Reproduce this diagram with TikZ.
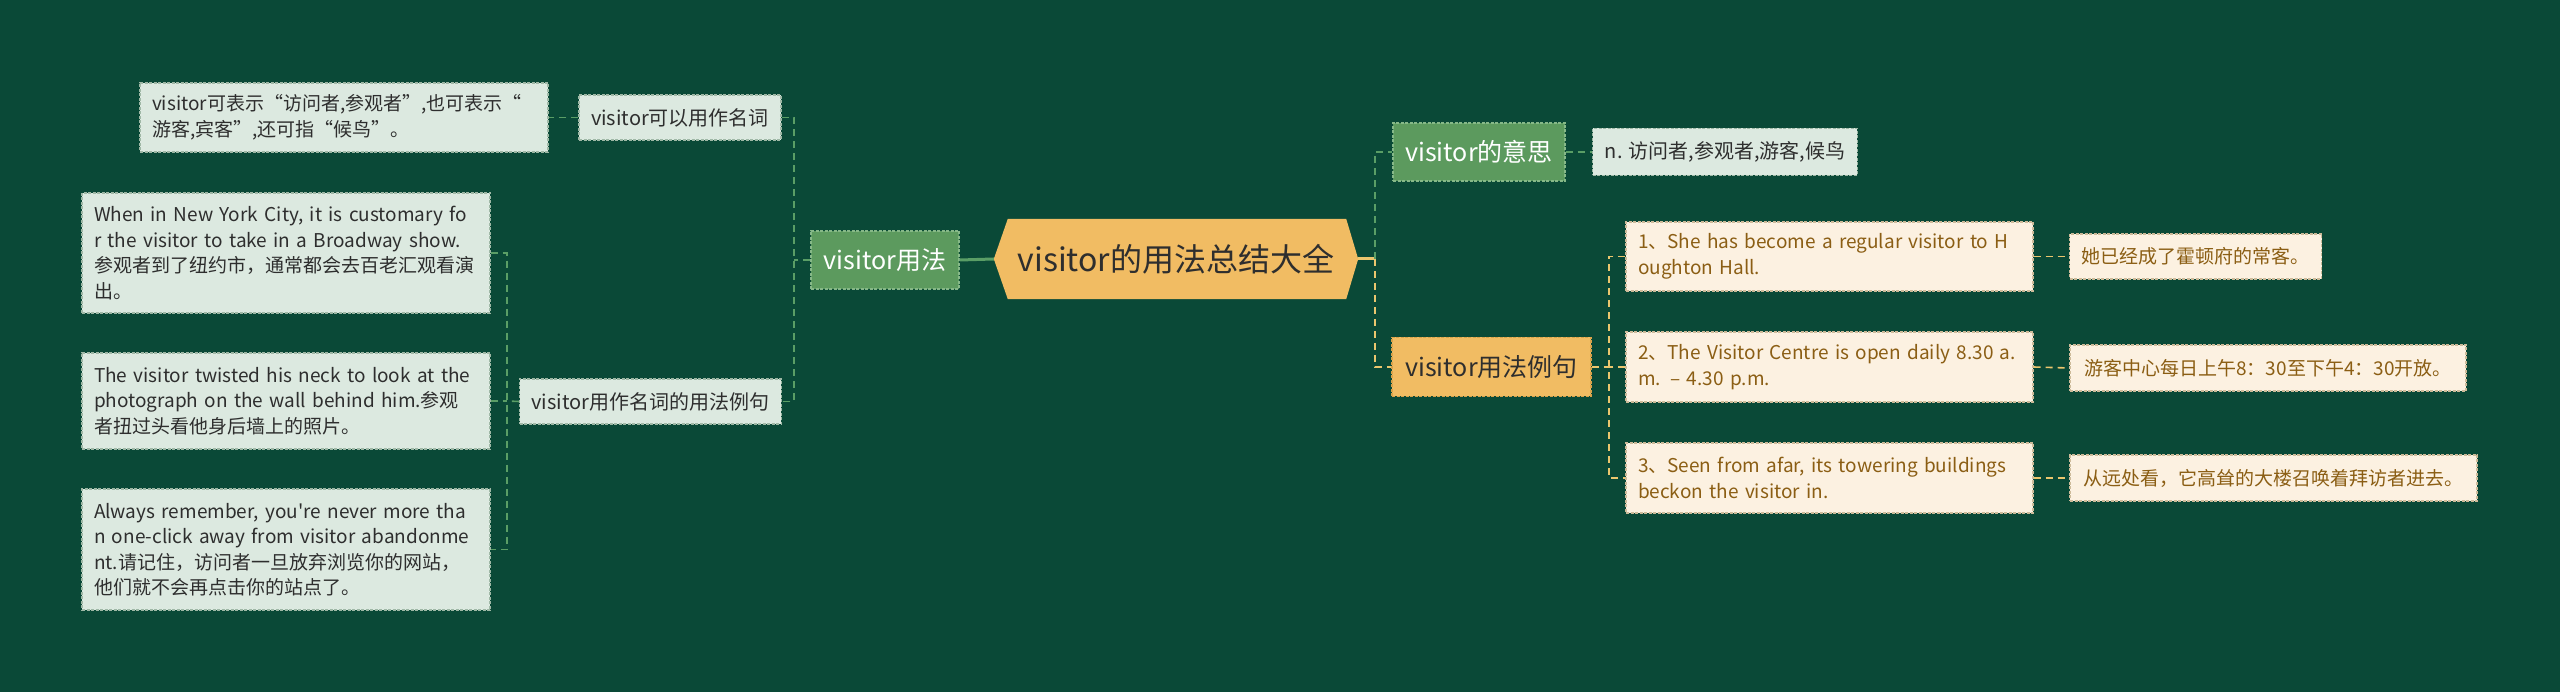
\documentclass[tikz,border=0pt]{standalone}
\usepackage{fontspec}
\setmainfont{Noto Sans CJK SC}[Ligatures=TeXOff]
\definecolor{bgC}{HTML}{0A4937}
\definecolor{greenF}{HTML}{5C9A5E}
\definecolor{greenD}{HTML}{86B888}
\definecolor{orangeF}{HTML}{F1BC63}
\definecolor{orangeD}{HTML}{D9A24A}
\definecolor{paleF}{HTML}{DCE9E0}
\definecolor{paleD}{HTML}{9FB8A6}
\definecolor{creamF}{HTML}{FCF1E1}
\definecolor{creamD}{HTML}{CDBB9A}
\definecolor{darkT}{HTML}{2E2E2E}
\definecolor{brownT}{HTML}{8B5E14}
\definecolor{lineG}{HTML}{5A9E66}
\definecolor{lineO}{HTML}{EBC66E}
\pgfdeclarelayer{canvas}
\pgfdeclarelayer{under}
\pgfsetlayers{canvas,under,main}
\tikzset{
  box/.style={line width=1.2pt, dash pattern=on 3pt off 1.5pt, inner xsep=12pt, inner ysep=0pt,
              font=\fontsize{19}{25.5}\selectfont, align=left},
  pale/.style={box, fill=paleF, draw=paleD, text=darkT},
  cream/.style={box, fill=creamF, draw=creamD, text=brownT},
  gmain/.style={box, fill=greenF, draw=greenD, text=white, font=\fontsize{25}{30}\selectfont, align=center},
  omain/.style={box, fill=orangeF, draw=orangeD, text=darkT, font=\fontsize{25}{30}\selectfont, align=center},
  gline/.style={draw=lineG, line width=1.6pt, dash pattern=on 7pt off 5pt},
  oline/.style={draw=lineO, line width=1.6pt, dash pattern=on 7pt off 5pt},
}
\begin{document}
\begin{tikzpicture}[x=1pt,y=-1pt]
\begin{pgfonlayer}{canvas}
\fill[bgC] (0,0) rectangle (2560,692);
\end{pgfonlayer}
\useasboundingbox (0,0) rectangle (2560,692);

% root
\node[font=\fontsize{32}{38}\selectfont, text=darkT, minimum width=364pt, minimum height=80pt, inner sep=0pt] (root) at (1176,259) {visitor的用法总结大全};
\begin{pgfonlayer}{under}
\fill[orangeF] (root.west) -- ([xshift=14pt]root.north west) -- ([xshift=-12pt]root.north east) -- (root.east)
  -- ([xshift=-12pt]root.south east) -- ([xshift=14pt]root.south west) -- cycle;
\end{pgfonlayer}

% left branch
\node[gmain, minimum width=148pt, minimum height=58pt] (L1) at (885,260) {visitor用法};
\node[pale, minimum width=192pt, minimum height=45pt, font=\fontsize{20}{25}\selectfont] (L1a) at (680,117.5) {visitor可以用作名词};
\node[pale, text width=384pt, minimum height=69pt] (L1a1) at (344,117.5) {visitor可表示“访问者,参观者”,也可表示“\\游客,宾客”,还可指“候鸟”。};
\node[pale, minimum width=251pt, minimum height=45pt, font=\fontsize{20}{25}\selectfont] (L1b) at (650.5,401.5) {visitor用作名词的用法例句};
\node[pale, text width=384pt, minimum height=120pt] (A) at (286,253) {When in New York City, it is customary fo\\r the visitor to take in a Broadway show.\\参观者到了纽约市，通常都会去百老汇观看演\\出。};
\node[pale, text width=384pt, minimum height=96pt] (B) at (286,401) {The visitor twisted his neck to look at the\\photograph on the wall behind him.参观\\者扭过头看他身后墙上的照片。};
\node[pale, text width=384pt, minimum height=121pt] (C) at (286,549.5) {Always remember, you're never more tha\\n one-click away from visitor abandonme\\nt.请记住，访问者一旦放弃浏览你的网站，\\他们就不会再点击你的站点了。};

% right branch
\node[gmain, minimum width=172pt, minimum height=58pt] (R1) at (1479,152) {visitor的意思};
\node[pale, minimum width=250pt, minimum height=47pt, font=\fontsize{20}{25}\selectfont] (R1a) at (1725,152) {n. 访问者,参观者,游客,候鸟};
\node[omain, minimum width=199pt, minimum height=59pt] (R2) at (1491.5,367) {visitor用法例句};
\node[cream, text width=383pt, minimum height=69pt] (E1) at (1829.5,256.5) {1、She has become a regular visitor to H\\oughton Hall.};
\node[cream, text width=383pt, minimum height=70pt] (E2) at (1829.5,367) {2、The Visitor Centre is open daily 8.30 a.\\m. – 4.30 p.m.};
\node[cream, text width=383pt, minimum height=70pt] (E3) at (1829.5,478) {3、Seen from afar, its towering buildings\\beckon the visitor in.};
\node[cream, minimum width=251pt, minimum height=45pt] (T1) at (2195.5,256.5) {她已经成了霍顿府的常客。};
\node[cream, minimum width=396pt, minimum height=46pt] (T2) at (2268,368) {游客中心每日上午8：30至下午4：30开放。};
\node[cream, minimum width=407pt, minimum height=46pt] (T3) at (2273.5,478) {从远处看，它高耸的大楼召唤着拜访者进去。};

% connectors
\coordinate (jL) at (794,260);
\coordinate (jL2) at (507,401);
\coordinate (jR) at (1375,259);
\coordinate (jR2) at (1609,367);

\draw[draw=lineG, line width=3pt] (root.west) -- (L1.east);
\draw[gline] (L1.west) -- (jL);
\draw[gline] (L1a.east) -| (jL) |- (L1b.east);
\draw[gline] (L1a.west) -- (L1a1.east);
\draw[gline] (L1b.west) -- (jL2);
\draw[gline] (A.east) -| (jL2) |- (C.east);
\draw[gline] (B.east) -- (jL2);

\draw[draw=lineO, line width=3pt] (root.east) -- (jR);
\draw[gline] (jR) |- (R1.west);
\draw[oline] (jR) |- (R2.west);
\draw[gline] (R1.east) -- (R1a.west);
\draw[oline] (R2.east) -- (jR2);
\draw[oline] (E1.west) -| (jR2) |- (E3.west);
\draw[oline] (E2.west) -- (jR2);
\draw[oline] (E1.east) -- (T1.west);
\draw[oline] (E2.east) -- (T2.west);
\draw[oline] (E3.east) -- (T3.west);
\end{tikzpicture}
\end{document}
